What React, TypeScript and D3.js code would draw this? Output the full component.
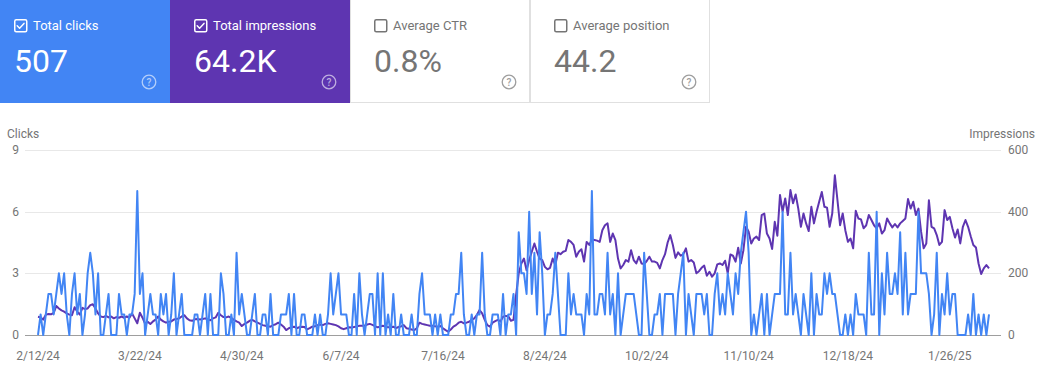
import React from "react";
import * as d3 from "d3";

const W = 1043;
const H = 383;

// ---- header metrics ----
const metricNames = ["Total clicks", "Total impressions", "Average CTR", "Average position"];
const metricValues = ["507", "64.2K", "0.8%", "44.2"];
const metricSelected = [true, true, false, false];
const metricFills = ["#4285f4", "#5e35b1", "#ffffff", "#ffffff"];

// ---- series (daily, starting 2024-02-12) ----
const startDay = "2024-02-12";

const clicks = [
  0,1,0,1,2,2,1,2,3,2,
  3,1,0,2,3,1,2,0,1,
  3,4,3,1,3,0,0,1,2,0,
  0,0,2,1,1,0,1,1,2,7,
  2,3,0,1,2,1,1,0,2,
  1,2,0,1,3,0,1,2,0,0,
  0,0,1,1,0,1,2,0,2,0,
  0,0,3,2,0,0,1,0,4,
  1,2,1,0,0,1,2,0,0,1,
  1,0,2,0,0,0,1,1,1,2,
  0,2,0,0,1,1,0,0,0,
  1,0,1,0,0,1,3,1,2,3,
  1,1,1,0,0,2,0,3,1,0,
  1,2,2,0,3,0,3,0,1,
  0,2,0,0,1,0,0,0,1,0,
  0,2,3,1,1,1,0,1,0,
  1,0,0,0,1,1,2,2,4,1,
  0,0,1,0,1,1,4,1,0,0,
  1,1,1,0,2,0,1,1,2,
  0,5,3,3,2,6,2,4,1,5,
  3,0,1,1,2,4,2,0,0,0,
  3,1,2,1,1,1,0,2,1,
  7,1,1,2,2,1,4,1,2,0,
  3,0,1,2,2,2,2,1,0,0,
  4,2,0,0,1,1,2,0,2,2,
  2,2,0,2,3,4,0,2,1,
  0,2,2,2,1,2,0,0,2,3,
  1,2,1,3,2,1,3,2,4,5,
  6,4,0,1,0,1,2,0,2,
  0,1,2,2,2,6,1,1,4,1,
  2,1,0,2,1,0,3,0,2,
  1,1,3,2,3,2,2,1,0,0,
  1,0,1,0,2,1,1,1,0,
  4,1,1,6,0,3,1,4,2,2,
  3,2,5,1,4,1,2,2,2,6,
  3,3,3,2,0,1,4,0,2,1,
  3,1,2,2,0,0,0,0,1,
  0,2,0,1,0,1,0,1,
];

const impressions = [
  59,57,50,66,68,67,72,94,86,80,
  76,70,66,64,90,76,66,88,84,
  86,97,100,86,70,60,58,62,57,60,
  54,58,56,60,56,60,56,70,54,38,
  72,56,36,43,36,44,50,60,50,
  44,40,43,44,50,52,54,60,64,54,
  48,46,51,52,50,52,54,50,48,54,
  57,72,64,58,57,60,55,49,44,
  40,29,36,40,46,49,44,40,36,32,
  30,28,27,32,35,40,34,27,16,22,
  25,27,22,25,27,26,18,22,27,
  28,32,34,32,36,38,36,34,32,28,
  22,19,22,25,24,26,28,30,30,30,
  34,36,33,29,25,27,30,27,25,
  26,27,22,26,28,32,22,20,18,16,
  22,40,36,34,32,30,30,28,27,
  29,22,16,11,18,27,32,40,43,38,
  40,43,49,54,65,81,70,49,32,27,
  40,45,49,44,59,62,61,46,49,
  130,200,232,248,210,243,270,297,270,248,
  243,221,213,218,248,227,267,262,270,273,
  308,302,292,254,270,278,238,302,292,
  310,308,306,302,340,356,362,302,329,308,
  248,216,227,243,238,275,243,232,254,232,
  230,240,254,238,238,234,216,243,262,300,
  324,292,250,268,257,262,281,238,243,
  235,200,207,218,225,192,205,189,200,229,
  232,227,241,200,261,257,238,283,232,275,
  351,335,297,313,319,308,389,394,329,
  313,279,367,322,454,400,443,389,470,427,
  456,410,351,394,362,337,416,362,400,
  432,464,416,413,351,394,518,437,356,394,
  340,302,313,281,403,378,375,346,356,
  389,373,356,346,362,329,340,378,362,349,
  360,349,362,370,378,441,410,432,389,410,
  335,281,297,437,351,346,324,292,302,405,
  373,383,346,316,342,297,351,373,351,
  320,292,284,232,198,216,227,216,
];

const xTickDates = [
  "2024-02-12", "2024-03-22", "2024-04-30", "2024-06-07", "2024-07-16",
  "2024-08-24", "2024-10-02", "2024-11-10", "2024-12-18", "2025-01-26",
];
const clickTicks = [0, 3, 6, 9];
const impressionTicks = [0, 200, 400, 600];

const FONT = "Roboto, 'Noto Sans', Arial, sans-serif";

function CheckBox({ x, y, on, color }: { x: number; y: number; on: boolean; color: string }) {
  return (
    <g transform={`translate(${x},${y})`}>
      <rect x={0.75} y={0.75} width={12} height={12} rx={1.5} fill="none" stroke={color} strokeWidth={1.5} />
      {on && (
        <path d="M3.2,6.8 L5.6,9.2 L10,4.4" fill="none" stroke={color} strokeWidth={1.5} strokeLinecap="round" strokeLinejoin="round" />
      )}
    </g>
  );
}

function HelpIcon({ cx, cy, color }: { cx: number; cy: number; color: string }) {
  return (
    <g>
      <circle cx={cx} cy={cy} r={6.8} fill="none" stroke={color} strokeWidth={1.3} />
      <text x={cx} y={cy + 3.6} textAnchor="middle" fontSize={10} fontWeight={500} fill={color} fontFamily={FONT}>
        ?
      </text>
    </g>
  );
}

export default function App() {
  const parse = d3.utcParse("%Y-%m-%d");
  const start = parse(startDay) as Date;
  const dates = clicks.map((_, i) => d3.utcDay.offset(start, i));

  const margin = { left: 38, right: W - 989, top: 150, bottom: H - 335 };

  const x = d3
    .scaleUtc()
    .domain([dates[0], dates[dates.length - 1]])
    .range([margin.left, W - margin.right]);
  const yL = d3.scaleLinear().domain([0, 9]).range([H - margin.bottom, margin.top]);
  const yR = d3.scaleLinear().domain([0, 600]).range([H - margin.bottom, margin.top]);

  const clickLine = d3
    .line<number>()
    .x((_, i) => x(dates[i]))
    .y((d) => yL(d));
  const imprLine = d3
    .line<number>()
    .x((_, i) => x(dates[i]))
    .y((d) => yR(d));

  const fmt = d3.utcFormat("%-m/%-d/%y");
  const gridX0 = 25;
  const gridX1 = 1001;

  const cardW = 180;
  const cardLeft = (i: number) => cardW * i - 10;

  return (
    <div style={{ position: "absolute", left: 0, top: 0, width: W, height: H, background: "#fff" }}>
      <svg width={W} height={H} style={{ display: "block" }} fontFamily={FONT}>
        <rect width={W} height={H} fill="#fff" />
        {/* metric cards */}
        {metricNames.map((name, i) => {
          const left = cardLeft(i);
          const colored = metricFills[i] !== "#ffffff";
          const fg = colored ? "#ffffff" : "#757575";
          const help = colored ? "rgba(255,255,255,0.6)" : "#9e9e9e";
          return (
            <g key={name}>
              {colored ? (
                <rect x={left} y={0} width={cardW} height={103} fill={metricFills[i]} />
              ) : (
                <rect x={left + 0.5} y={-2} width={cardW - 1} height={104.5} fill="#fff" stroke="#e0e0e0" strokeWidth={1} />
              )}
              <CheckBox x={left + 24} y={19} on={metricSelected[i]} color={colored ? "#fff" : "#757575"} />
              <text x={left + 43} y={30} fontSize={13} fill={fg}>
                {name}
              </text>
              <text x={left + 24} y={72} fontSize={32} fill={fg}>
                {metricValues[i]}
              </text>
              <HelpIcon cx={left + 159} cy={82} color={help} />
            </g>
          );
        })}

        {/* gridlines */}
        {clickTicks.map((t) => (
          <line
            key={`g${t}`}
            x1={gridX0}
            x2={gridX1}
            y1={Math.round(yL(t)) + 0.5}
            y2={Math.round(yL(t)) + 0.5}
            stroke={t === 0 ? "#9e9e9e" : "#e8e8e8"}
            strokeWidth={1}
          />
        ))}

        {/* axis titles */}
        <text x={7} y={138} fontSize={12} fill="#757575">
          Clicks
        </text>
        <text x={1035} y={138} fontSize={12} fill="#757575" textAnchor="end">
          Impressions
        </text>

        {/* left ticks */}
        {clickTicks.map((t) => (
          <text key={`l${t}`} x={19} y={yL(t) + 4} fontSize={12} fill="#757575" textAnchor="end">
            {t}
          </text>
        ))}
        {/* right ticks */}
        {impressionTicks.map((t) => (
          <text key={`r${t}`} x={1008} y={yR(t) + 4} fontSize={12} fill="#757575" textAnchor="start">
            {t}
          </text>
        ))}
        {/* x ticks */}
        {xTickDates.map((s) => {
          const d = parse(s) as Date;
          return (
            <text key={s} x={x(d)} y={360} fontSize={12} fill="#757575" textAnchor="middle">
              {fmt(d)}
            </text>
          );
        })}

        {/* series */}
        <path d={imprLine(impressions) || ""} fill="none" stroke="#5e35b1" strokeWidth={2} strokeLinejoin="round" />
        <path d={clickLine(clicks) || ""} fill="none" stroke="#4285f4" strokeWidth={2} strokeLinejoin="round" />
      </svg>
    </div>
  );
}
